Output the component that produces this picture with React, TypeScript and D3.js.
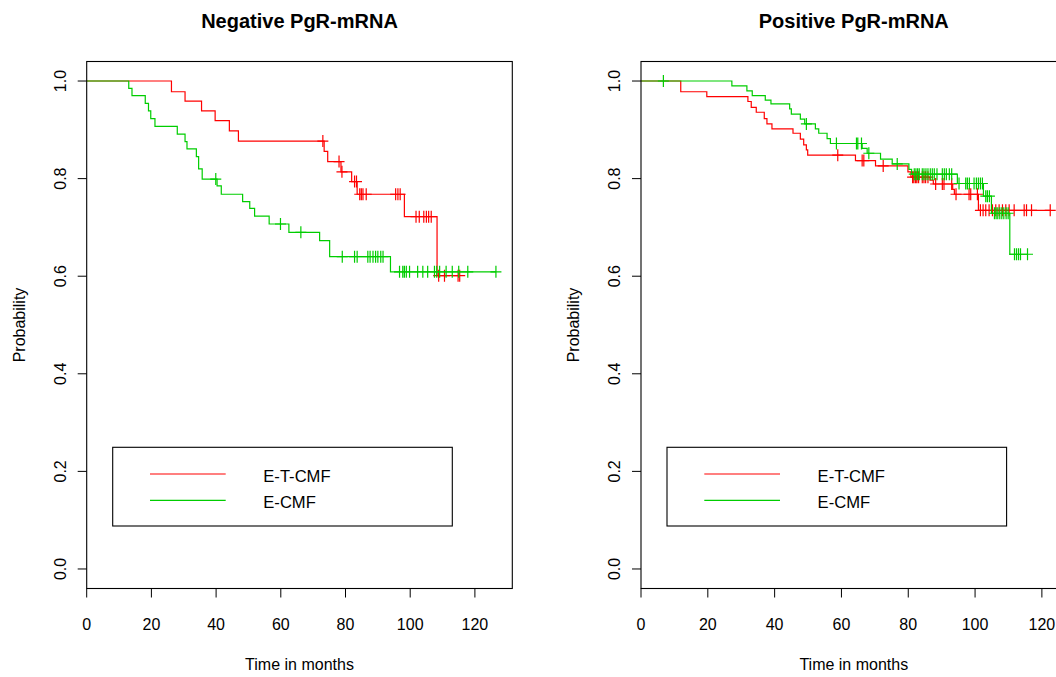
import React from "react";
import * as d3 from "d3";

// ---- labels ----
const TITLES = ["Negative PgR-mRNA", "Positive PgR-mRNA"];
const ARMS = ["E-T-CMF", "E-CMF"];
const ARM_COLORS = ["#ff0000", "#00cd00"];
const X_TICKS = [0, 20, 40, 60, 80, 100, 120];
const Y_TICKS = [0, 0.2, 0.4, 0.6, 0.8, 1.0];
const X_LABEL = "Time in months";
const Y_LABEL = "Probability";

// ---- Negative PgR-mRNA: Kaplan-Meier steps (event time, survival after step) ----
const negEtcmfTimes = [26.2, 30.4, 35.5, 39.7, 44.1, 46.9, 73.4, 74.5, 78.6, 81.9, 83.6, 98.2, 108.3];
const negEtcmfSurv = [0.978, 0.959, 0.939, 0.919, 0.898, 0.877, 0.856, 0.835, 0.814, 0.794, 0.768, 0.722, 0.601];
const negEtcmfCensored = [73.0, 78.0, 78.9, 82.8, 83.4, 84.4, 84.9, 85.4, 86.4, 95.5, 96.2, 96.9,
  101.8, 102.8, 104.2, 105.0, 105.7, 106.5, 108.8, 110.6, 114.8, 115.3];

const negEcmfTimes = [13.0, 14.0, 18.1, 19.1, 19.8, 21.1, 28.0, 30.4, 31.0, 33.9, 34.6, 35.7, 40.3, 41.6,
  48.2, 50.4, 51.9, 56.4, 62.5, 72.0, 75.1, 93.9];
const negEcmfSurv = [0.985, 0.970, 0.954, 0.939, 0.923, 0.907, 0.891, 0.876, 0.861, 0.845, 0.820, 0.799, 0.785, 0.768,
  0.753, 0.739, 0.723, 0.707, 0.690, 0.673, 0.640, 0.609];
const negEcmfCensored = [39.9, 59.9, 66.2, 79.0, 82.8, 83.6, 86.9, 87.6, 88.5, 89.3, 90.0, 90.9, 91.6,
  96.7, 97.7, 98.2, 98.8, 99.8, 102.3, 103.9, 105.4, 107.5, 108.2, 109.1, 111.1, 113.0, 115.0, 117.8, 126.5];

// ---- Positive PgR-mRNA ----
const posEtcmfTimes = [11.9, 19.7, 32.0, 33.0, 34.5, 36.9, 37.7, 39.2, 45.5, 47.7, 48.7, 49.5, 49.9,
  64.2, 70.2, 79.9, 80.8, 86.5, 87.5, 93.3, 93.8, 101.0];
const posEtcmfSurv = [0.978, 0.968, 0.958, 0.946, 0.936, 0.923, 0.912, 0.902, 0.893, 0.881, 0.869, 0.859, 0.848,
  0.837, 0.826, 0.814, 0.803, 0.797, 0.789, 0.778, 0.768, 0.735];
const posEtcmfCensored = [58.9, 66.2, 66.7, 72.5, 81.3, 81.7, 82.2, 82.6, 83.1, 84.2, 84.7, 85.2, 85.9,
  88.2, 90.2, 90.7, 93.0, 94.3, 98.2, 98.7, 100.7, 101.6, 102.4, 103.2, 104.2, 105.2, 106.2, 107.2,
  108.2, 109.2, 110.2, 111.7, 114.7, 115.4, 116.9, 122.5];

const posEcmfTimes = [27.2, 31.7, 33.3, 37.2, 38.9, 44.5, 45.0, 47.7, 49.0, 52.2, 53.2, 55.7, 56.7, 66.2, 67.7,
  71.7, 75.2, 80.2, 81.0, 94.7, 102.5, 104.9, 110.4];
const posEcmfSurv = [0.990, 0.980, 0.970, 0.961, 0.953, 0.943, 0.932, 0.922, 0.912, 0.902, 0.893, 0.882, 0.872,
  0.862, 0.852, 0.840, 0.830, 0.819, 0.809, 0.790, 0.764, 0.729, 0.645];
const posEcmfCensored = [6.7, 49.5, 58.5, 64.5, 64.9, 66.0, 68.2, 76.7, 81.8, 82.3, 82.8, 83.3, 84.2, 84.7,
  85.3, 85.9, 86.6, 87.2, 87.8, 88.6, 90.2, 90.8, 91.4, 92.3, 93.0, 95.2, 97.2, 97.7, 98.3, 99.7, 100.4,
  101.0, 101.6, 102.2, 103.2, 103.7, 104.3, 105.8, 106.3, 106.8, 107.4, 108.0, 108.6, 109.3, 109.9,
  111.8, 112.4, 113.0, 113.6, 115.7];

type Curve = { times: number[]; surv: number[]; censored: number[] };

const PANELS: { title: string; curves: Curve[] }[] = [
  {
    title: TITLES[0],
    curves: [
      { times: negEtcmfTimes, surv: negEtcmfSurv, censored: negEtcmfCensored },
      { times: negEcmfTimes, surv: negEcmfSurv, censored: negEcmfCensored },
    ],
  },
  {
    title: TITLES[1],
    curves: [
      { times: posEtcmfTimes, surv: posEtcmfSurv, censored: posEtcmfCensored },
      { times: posEcmfTimes, surv: posEcmfSurv, censored: posEcmfCensored },
    ],
  },
];

const FONT = "'Liberation Sans', Arial, Helvetica, sans-serif";
const W = 1056;
const H = 677;
const PANEL_LEFTS = [86.7, 641];
const PLOT_W = 425.6;
const PLOT_TOP = 61.5;
const PLOT_BOTTOM = 588.5;
const MARK = 5.5;

function survivalAt(c: Curve, t: number): number {
  let s = 1;
  for (let i = 0; i < c.times.length; i++) {
    if (c.times[i] <= t) s = c.surv[i];
  }
  return s;
}

function Panel({ left, title, curves }: { left: number; title: string; curves: Curve[] }) {
  const allTimes = curves.flatMap((c) => [...c.times, ...c.censored]);
  const xMax = (d3.max(allTimes) ?? 120) * 1.04;
  const x = d3.scaleLinear().domain([0, xMax]).range([left, left + PLOT_W]);
  const y = d3.scaleLinear().domain([-0.04, 1.04]).range([PLOT_BOTTOM, PLOT_TOP]);
  const cx = left + PLOT_W / 2;
  const cy = (PLOT_TOP + PLOT_BOTTOM) / 2;

  const line = d3
    .line<[number, number]>()
    .x((d) => x(d[0]))
    .y((d) => y(d[1]))
    .curve(d3.curveStepAfter);

  const legendX = left + 26;
  const legendY = 447.3;

  return (
    <g>
      <text x={cx} y={27.5} textAnchor="middle" fontSize={20} fontWeight="bold" fontFamily={FONT}>
        {title}
      </text>

      {curves.map((c, i) => {
        const end = Math.max(d3.max(c.times) ?? 0, d3.max(c.censored) ?? 0);
        const pts: [number, number][] = [[0, 1], ...c.times.map((t, k) => [t, c.surv[k]] as [number, number])];
        pts.push([end, c.surv[c.surv.length - 1]]);
        const marks = c.censored
          .map((t) => {
            const px = x(t);
            const py = y(survivalAt(c, t));
            return `M${px - MARK},${py}H${px + MARK}M${px},${py - MARK - 0.5}V${py + MARK + 0.5}`;
          })
          .join("");
        return (
          <g key={i} stroke={ARM_COLORS[i]} fill="none" strokeWidth={1.2}>
            <path d={line(pts) ?? ""} />
            <path d={marks} />
          </g>
        );
      })}

      <rect x={left} y={PLOT_TOP} width={PLOT_W} height={PLOT_BOTTOM - PLOT_TOP} fill="none" stroke="#000" strokeWidth={1.1} />

      {X_TICKS.map((t) => (
        <g key={"x" + t}>
          <line x1={x(t)} x2={x(t)} y1={PLOT_BOTTOM} y2={PLOT_BOTTOM + 9} stroke="#000" strokeWidth={1} />
          <text x={x(t)} y={629.5} textAnchor="middle" fontSize={16} fontFamily={FONT}>
            {t}
          </text>
        </g>
      ))}
      {Y_TICKS.map((t) => (
        <g key={"y" + t}>
          <line x1={left - 9} x2={left} y1={y(t)} y2={y(t)} stroke="#000" strokeWidth={1} />
          <text
            transform={`translate(${left - 21},${y(t)}) rotate(-90)`}
            textAnchor="middle"
            fontSize={16}
            fontFamily={FONT}
          >
            {t.toFixed(1)}
          </text>
        </g>
      ))}

      <text x={cx} y={670} textAnchor="middle" fontSize={16} fontFamily={FONT}>
        {X_LABEL}
      </text>
      <text transform={`translate(${left - 62},${cy}) rotate(-90)`} textAnchor="middle" fontSize={16} fontFamily={FONT}>
        {Y_LABEL}
      </text>

      <rect x={legendX} y={legendY} width={339.6} height={78.7} fill="#fff" stroke="#000" strokeWidth={1.1} />
      {ARMS.map((name, i) => (
        <g key={name}>
          <line
            x1={legendX + 37.3}
            x2={legendX + 113}
            y1={legendY + 26.7 + i * 26.3}
            y2={legendY + 26.7 + i * 26.3}
            stroke={ARM_COLORS[i]}
            strokeWidth={1.2}
          />
          <text x={legendX + 150.6} y={legendY + 34.4 + i * 26.6} fontSize={16.6} fontFamily={FONT}>
            {name}
          </text>
        </g>
      ))}
    </g>
  );
}

export default function App() {
  return (
    <svg
      width={W}
      height={H}
      viewBox={`0 0 ${W} ${H}`}
      style={{ position: "absolute", left: 0, top: 0, background: "#fff" }}
    >
      <rect width={W} height={H} fill="#fff" />
      {PANELS.map((p, i) => (
        <Panel key={i} left={PANEL_LEFTS[i]} title={p.title} curves={p.curves} />
      ))}
    </svg>
  );
}
